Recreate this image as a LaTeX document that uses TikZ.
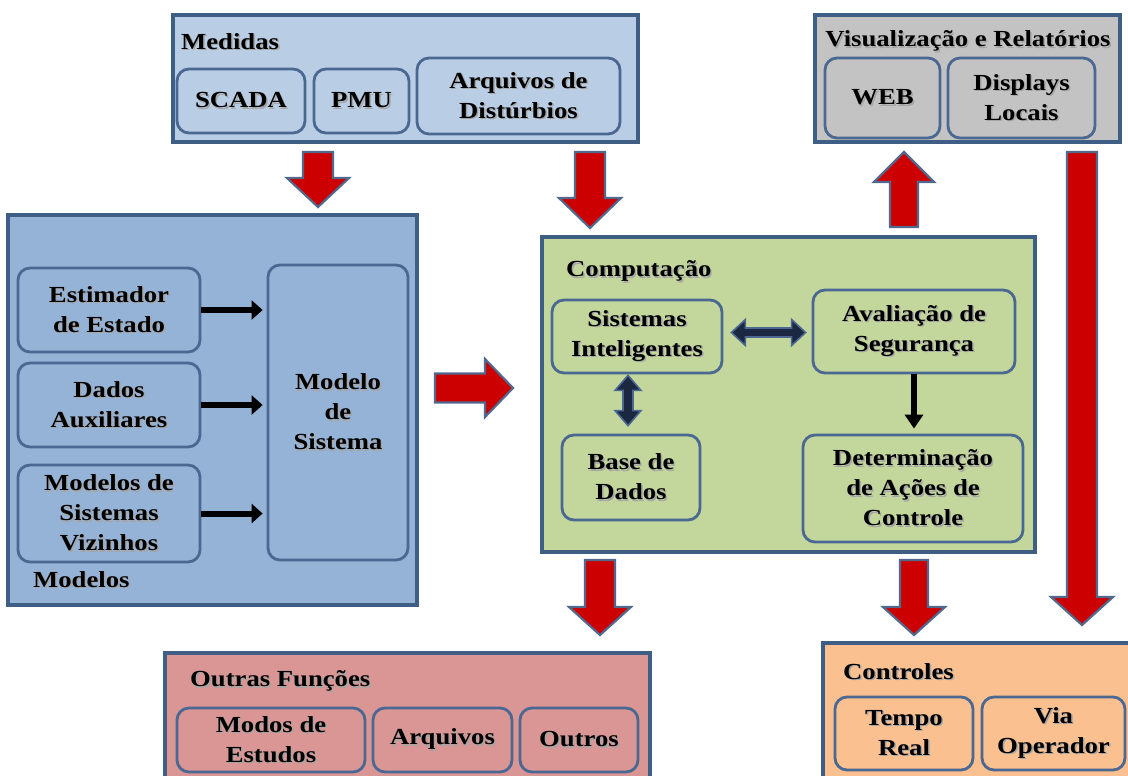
\documentclass[tikz,border=0pt]{standalone}
\usepackage{fontspec}
\setmainfont{Liberation Serif}[FakeStretch=1.16]
\usetikzlibrary{arrows.meta,calc}

\definecolor{frameblue}{HTML}{3F5E86}
\definecolor{innerblue}{HTML}{4A6891}
\definecolor{medfill}{HTML}{B9CDE5}
\definecolor{visfill}{HTML}{C3C3C3}
\definecolor{modfill}{HTML}{95B3D7}
\definecolor{compfill}{HTML}{C3D69B}
\definecolor{outfill}{HTML}{D99694}
\definecolor{ctlfill}{HTML}{FAC090}
\definecolor{blockred}{HTML}{CC0000}
\definecolor{blockedge}{HTML}{50698C}
\definecolor{navy}{HTML}{1C2841}

% bold text with a soft grey drop shadow
\newcommand\sh[1]{\rlap{\kern1.5pt\raisebox{-1.5pt}{\color{black!35}#1}}#1}

% vertical block arrow: centre x, tail y, head-base y, tip y, shaft half, head half
\newcommand\blockv[6]{%
  \draw[redblock] (#1-#5,#2) -- (#1-#5,#3) -- (#1-#6,#3) -- (#1,#4)
    -- (#1+#6,#3) -- (#1+#5,#3) -- (#1+#5,#2) -- cycle;}
% horizontal block arrow: centre y, tail x, head-base x, tip x, shaft half, head half
\newcommand\blockh[6]{%
  \draw[redblock] (#2,#1-#5) -- (#3,#1-#5) -- (#3,#1-#6) -- (#4,#1)
    -- (#3,#1+#6) -- (#3,#1+#5) -- (#2,#1+#5) -- cycle;}

\begin{document}
\begin{tikzpicture}[x=1pt,y=-1pt,
  every node/.style={font=\fontsize{23}{30}\selectfont\bfseries},
  outerbox/.style={draw=frameblue, line width=3.4pt, rectangle, inner sep=0pt},
  innerbox/.style={draw=innerblue, line width=2.8pt, rounded corners=12pt,
    rectangle, inner sep=0pt, align=center},
  title/.style={inner sep=0pt, anchor=west},
  redblock/.style={fill=blockred, draw=blockedge, line width=2.2pt, line join=miter},
  blackarrow/.style={draw=black, line width=6pt,
    -{Triangle[length=11pt,width=19pt]}},
  navyblock/.style={fill=navy, draw=innerblue, line width=1.6pt, line join=miter},
]
\useasboundingbox (0,0) rectangle (1128,776);
\clip (0,0) rectangle (1128,776);

% ---------------- Medidas ----------------
\node[outerbox, fill=medfill, minimum width=465pt, minimum height=127pt] (med) at (405.5,78.5) {};
\node[title] (medt) at (181,42) {\sh{Medidas}};
\node[innerbox, fill=medfill, minimum width=128pt, minimum height=64pt] (scada) at (241,101) {\sh{SCADA}};
\node[innerbox, fill=medfill, minimum width=95pt, minimum height=64pt] (pmu) at (361.5,101) {\sh{PMU}};
\node[innerbox, fill=medfill, minimum width=203pt, minimum height=76pt] (arqd) at (518.5,96) {\sh{Arquivos de}\\\sh{Distúrbios}};

% ---------------- Visualizacao ----------------
\node[outerbox, fill=visfill, minimum width=305pt, minimum height=127pt] (vis) at (967.5,78.5) {};
\node[inner sep=0pt] (vist) at (968,42) {\sh{Visualização e Relatórios}};
\node[innerbox, fill=visfill, minimum width=115pt, minimum height=80pt] (web) at (882.5,98) {\sh{WEB}};
\node[innerbox, fill=visfill, minimum width=147pt, minimum height=80pt] (disp) at (1021.5,98) {\sh{Displays}\\\sh{Locais}};

% ---------------- Modelos ----------------
\node[outerbox, fill=modfill, minimum width=409pt, minimum height=390pt] (mod) at (212.5,410) {};
\node[innerbox, fill=modfill, minimum width=182pt, minimum height=84pt] (est) at (109,310) {\sh{Estimador}\\\sh{de Estado}};
\node[innerbox, fill=modfill, minimum width=182pt, minimum height=84pt] (aux) at (109,405) {\sh{Dados}\\\sh{Auxiliares}};
\node[innerbox, fill=modfill, minimum width=182pt, minimum height=97pt] (viz) at (109,513.5) {\sh{Modelos de}\\\sh{Sistemas}\\\sh{Vizinhos}};
\node[innerbox, fill=modfill, minimum width=140pt, minimum height=295pt] (msys) at (338,412.5) {\sh{Modelo}\\\sh{de}\\\sh{Sistema}};
\node[title] (modt) at (33,580) {\sh{Modelos}};
\draw[blackarrow, shorten >=4pt] (est.east) -- (est.east -| msys.west);
\draw[blackarrow, shorten >=4pt] (aux.east) -- (aux.east -| msys.west);
\draw[blackarrow, shorten >=4pt] (viz.east) -- (viz.east -| msys.west);

% ---------------- Computacao ----------------
\node[outerbox, fill=compfill, minimum width=493pt, minimum height=315pt] (comp) at (788.5,394.5) {};
\node[title] (compt) at (566,272) {\sh{Computação}};
\node[innerbox, fill=compfill, minimum width=170pt, minimum height=73pt] (sint) at (637,336.5) {\sh{Sistemas}\\\sh{Inteligentes}};
\node[innerbox, fill=compfill, minimum width=202pt, minimum height=83pt] (aval) at (914,331.5) {\sh{Avaliação de}\\\sh{Segurança}};
\node[innerbox, fill=compfill, minimum width=138pt, minimum height=85pt] (base) at (631,477.5) {\sh{Base de}\\\sh{Dados}};
\node[innerbox, fill=compfill, minimum width=220pt, minimum height=107pt] (det) at (913,488.5) {\sh{Determinação}\\\sh{de Ações de}\\\sh{Controle}};

% two-way link between Sistemas Inteligentes and Avaliacao
\coordinate (hl) at ($(sint.east)+(8,-4)$);
\coordinate (hr) at ($(aval.west |- hl)+(-6,0)$);
\draw[navyblock] (hl) -- ++(14,-13) -- ++(0,8.5) -- ($(hr)+(-14,-4.5)$) -- ++(0,-8.5)
  -- (hr) -- ++(-14,13) -- ++(0,-8.5) -- ($(hl)+(14,4.5)$) -- ++(0,8.5) -- cycle;
% two-way link between Sistemas Inteligentes and Base de Dados
\coordinate (vt) at ($(sint.south)+(-9,1)$);
\coordinate (vb) at ($(base.north -| vt)+(0,-8)$);
\draw[navyblock] (vt) -- ++(-13,15) -- ++(8,0) -- ($(vb)+(-5,-15)$) -- ++(-8,0)
  -- (vb) -- ++(13,-15) -- ++(-8,0) -- ($(vt)+(5,15)$) -- ++(8,0) -- cycle;
% Avaliacao feeds Determinacao
\draw[draw=black, line width=6pt, -{Triangle[length=14pt,width=18pt]}, shorten >=5pt]
  (aval.south) -- (aval.south |- det.north);

% ---------------- Outras Funcoes ----------------
\node[outerbox, fill=outfill, minimum width=485pt, minimum height=137pt] (outr) at (407.5,721.5) {};
\node[title] (outrt) at (190,682) {\sh{Outras Funções}};
\node[innerbox, fill=outfill, minimum width=188pt, minimum height=64pt] (modos) at (271,740) {\sh{Modos de}\\\sh{Estudos}};
\node[innerbox, fill=outfill, minimum width=139pt, minimum height=64pt] (arqv) at (442.5,740) {\sh{Arquivos}};
\node[innerbox, fill=outfill, minimum width=118pt, minimum height=64pt] (outros) at (579,740) {\sh{Outros}};

% ---------------- Controles ----------------
\node[outerbox, fill=ctlfill, minimum width=317pt, minimum height=147pt] (ctl) at (981.5,716.5) {};
\node[title] (ctlt) at (843,672) {\sh{Controles}};
\node[innerbox, fill=ctlfill, minimum width=138pt, minimum height=73pt] (tempo) at (904,733.5) {\sh{Tempo}\\\sh{Real}};
\node[innerbox, fill=ctlfill, minimum width=143pt, minimum height=73pt] (via) at (1053.5,733.5) {\sh{Via}\\\sh{Operador}};

% ---------------- block arrows between the groups ----------------
\blockv{318}{152}{178}{207}{15}{31}    % Medidas -> Modelos
\blockv{590}{152}{198}{228}{15}{31}    % Medidas -> Computacao
\blockv{904}{227}{182}{152}{14}{30}    % Computacao -> Visualizacao
\blockv{1082}{152}{597}{625}{15}{31}   % Visualizacao -> Controles
\blockh{388}{435}{485}{513}{14.5}{29}  % Modelos -> Computacao
\blockv{600}{560}{607}{635}{15}{31}    % Computacao -> Outras Funcoes
\blockv{914}{560}{607}{635}{14}{31}    % Computacao -> Controles
\end{tikzpicture}
\end{document}
